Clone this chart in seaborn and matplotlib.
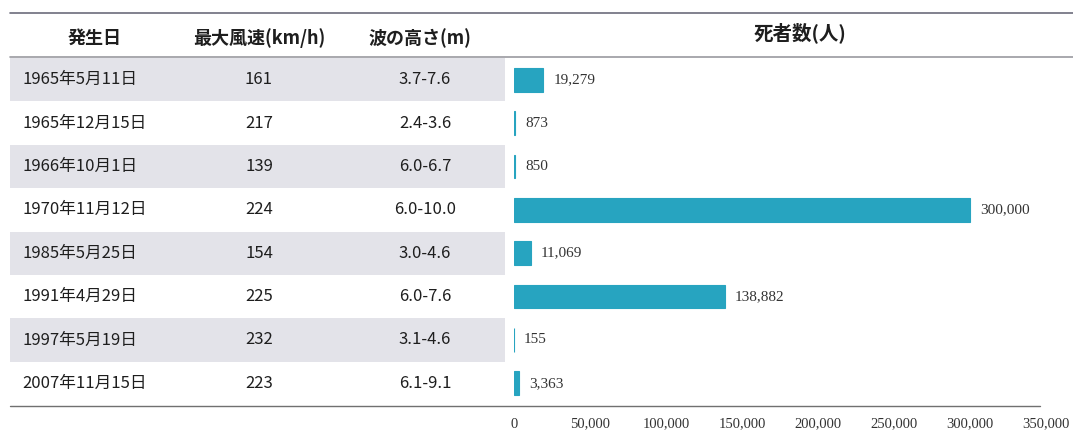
import numpy as np
import pandas as pd
import seaborn as sns
import matplotlib.pyplot as plt
from matplotlib.lines import Line2D

# Data
dates = ['1965年5月11日', '1965年12月15日', '1966年10月1日', '1970年11月12日',
         '1985年5月25日', '1991年4月29日', '1997年5月19日', '2007年11月15日']
max_wind = ['161', '217', '139', '224', '154', '225', '232', '223']
wave_height = ['3.7-7.6', '2.4-3.6', '6.0-6.7', '6.0-10.0', '3.0-4.6', '6.0-7.6', '3.1-4.6', '6.1-9.1']
deaths = [19279, 873, 850, 300000, 11069, 138882, 155, 3363]
headers = ['発生日', '最大風速(km/h)', '波の高さ(m)']
chart_title = '死者数(人)'

sns.set_theme(style="white")
plt.rcParams['font.family'] = ['Noto Sans CJK JP', 'DejaVu Sans']

W, H = 1073, 434
fig = plt.figure(figsize=(W / 100, H / 100), dpi=100)

def fx(px):
    return px / W

def fy(py):
    return 1 - py / H

row_top, row_bot = 58, 405
bottom = fy(row_bot)
height = fy(row_top) - bottom

# Table part
tab = fig.add_axes([fx(10), bottom, fx(505) - fx(10), height])
tab.set_xlim(0, 495)
tab.set_ylim(len(dates) - 0.5, -0.5)
tab.axis('off')
for i in range(len(dates)):
    if i % 2 == 0:
        tab.axhspan(i - 0.5, i + 0.5, color='#e3e3e9', lw=0)
    tab.text(12, i, dates[i], ha='left', va='center', fontsize=12, color='#1e1e1e')
    tab.text(249, i, max_wind[i], ha='center', va='center', fontsize=12, color='#1e1e1e')
    tab.text(415, i, wave_height[i], ha='center', va='center', fontsize=12, color='#1e1e1e')

for x, h in zip([95, 259, 420], headers):
    fig.text(fx(x), fy(38), h, ha='center', va='center', fontsize=13,
             fontweight='bold', color='#1e1e1e')

# Bar chart part
df = pd.DataFrame({'date': dates, 'deaths': deaths})
ax = fig.add_axes([fx(514), bottom, fx(1046) - fx(514), height])
sns.barplot(data=df, y='date', x='deaths', orient='h', color='#27a4c0',
            saturation=1, width=0.55, edgecolor='#27a4c0', linewidth=0.8, ax=ax)
ax.set_xlim(0, 350000)
ax.set_ylim(len(dates) - 0.5, -0.5)
ax.set_xticks(np.arange(0, 350001, 50000))
ax.set_xticklabels([f'{v:,}' for v in range(0, 350001, 50000)],
                   fontfamily='Liberation Serif', fontsize=10.5, color='#333333')
ax.tick_params(axis='x', length=0, pad=9)
ax.set_yticks([])
ax.set_xlabel('')
ax.set_ylabel('')
for s in ax.spines.values():
    s.set_visible(False)
for i, v in enumerate(deaths):
    ax.text(v + 6500, i, f'{v:,}', ha='left', va='center',
            fontfamily='Liberation Serif', fontsize=11, color='#333333')

fig.text(fx(800), fy(33), chart_title, ha='center', va='center', fontsize=14,
         fontweight='bold', color='#1e1e1e')

# Rules
fig.add_artist(Line2D([fx(10), 1], [fy(13), fy(13)], color='#6c6c7c', lw=1.2))
fig.add_artist(Line2D([fx(10), 1], [fy(57), fy(57)], color='#9a9aa0', lw=1.2))
fig.add_artist(Line2D([fx(10), fx(1040)], [fy(406), fy(406)], color='#707070', lw=1.0))

fig.savefig('out.png', dpi=100, facecolor='white')
